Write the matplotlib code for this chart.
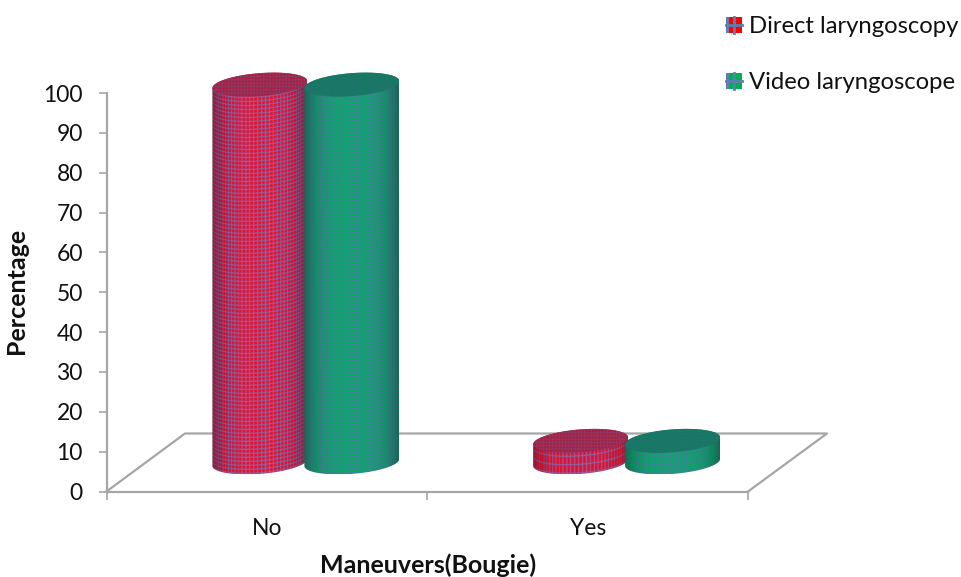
import matplotlib
matplotlib.use('Agg')
import matplotlib.pyplot as plt
from matplotlib.patches import PathPatch, Rectangle
from matplotlib.path import Path
from matplotlib.lines import Line2D
import numpy as np

categories = ['No', 'Yes']
series_names = ['Direct laryngoscopy', 'Video laryngoscope']
direct_values = [94.8, 5.4]
video_values = [94.8, 5.4]
y_ticks = list(range(0, 101, 10))

W, H = 961, 577
GRAY = '#a6a6a6'
TEXT = '#111111'
plt.rcParams['font.family'] = ['Lato', 'DejaVu Sans']

# plot box in pixels, y=0 is the front edge of the floor
LEFT, RIGHT, BOTTOM, TOP = 106.5, 748, 491.5, 93
DX = (RIGHT - LEFT) / 2      # pixels per category
DY = (BOTTOM - TOP) / 100    # pixels per percent

fig = plt.figure(figsize=(W / 100, H / 100), dpi=100)
ax = fig.add_axes([LEFT / W, 1 - BOTTOM / H, (RIGHT - LEFT) / W, (BOTTOM - TOP) / H])
ax.set_xlim(0, 2)
ax.set_ylim(0, 100)


def shade(u):
    return 0.68 + 0.32 * (1 - np.abs(u) ** 3.5)


def cylinder(cat, side, value, base_col, line_col, top_col, top_line):
    # cylinder sits on the floor, half the depth back from the front edge
    a = 47.5
    b = 11.5
    k = 3.5
    cx = cat + 0.5 + (39 + side * 46) / DX
    y0 = 7.3
    y1 = y0 + value

    t = np.linspace(0, 2 * np.pi, 200)
    low = t[100:]
    upp = t[:100]
    xs = np.r_[cx + a / DX * np.cos(low), cx + a / DX * np.cos(upp)]
    ys = np.r_[y0 + (b * np.sin(low) + k * np.cos(low)) / DY,
               y1 + (b * np.sin(upp) + k * np.cos(upp)) / DY]
    patch = PathPatch(Path(np.c_[xs, ys]), fc='none', ec='none', transform=ax.transData)
    ax.add_patch(patch)

    xmin, xmax, ymin, ymax = xs.min(), xs.max(), ys.min(), ys.max()
    nx = int((xmax - xmin) * DX * 3)
    ny = int((ymax - ymin) * DY * 3)
    gx, gy = np.meshgrid(np.linspace(xmin, xmax, nx), np.linspace(ymin, ymax, ny))
    u = np.clip((gx - cx) * DX / a, -1, 1)
    s = np.arccos(u) * a
    pitch_y = 4.0 if value > 20 else 8.5
    v = (gy - y0) * DY - k * u + b * np.sqrt(1 - u ** 2)
    grid = ((s / 4.0) % 1 < 0.27) | ((v / pitch_y) % 1 < 1.05 / pitch_y)
    img = np.where(grid[..., None], np.array(line_col), np.array(base_col))
    img = img * shade(u)[..., None]
    im = ax.imshow(img / 255, extent=(xmin, xmax, ymin, ymax), origin='lower',
                   aspect='auto', interpolation='bilinear', zorder=3 + side)
    im.set_clip_box(fig.bbox)
    im.set_clip_path(patch)

    # top face
    tx = cx + a / DX * np.cos(t)
    ty = y1 + (b * np.sin(t) + k * np.cos(t)) / DY
    top_patch = PathPatch(Path(np.c_[tx, ty]), fc='none', ec='none', transform=ax.transData)
    ax.add_patch(top_patch)
    ymin2, ymax2 = ty.min(), ty.max()
    ny2 = int((ymax2 - ymin2) * DY * 3)
    gx, gy = np.meshgrid(np.linspace(xmin, xmax, nx), np.linspace(ymin2, ymax2, ny2))
    px, py = (gx - xmin) * DX, (gy - ymin2) * DY
    grid = ((px / 3.2) % 1 < 0.3) | ((py / 3.2) % 1 < 0.3)
    img = np.where(grid[..., None], np.array(top_line), np.array(top_col))
    im = ax.imshow(img / 255, extent=(xmin, xmax, ymin2, ymax2), origin='lower',
                   aspect='auto', interpolation='bilinear', zorder=3 + side)
    im.set_clip_box(fig.bbox)
    im.set_clip_path(top_patch)


# red bars first, green ones overlap them
for i in range(len(categories)):
    cylinder(i, -1, direct_values[i], (232, 16, 48), (135, 105, 170), (176, 26, 60), (135, 62, 105))
    cylinder(i, 1, video_values[i], (10, 168, 106), (65, 130, 150), (22, 124, 98), (30, 114, 108))

ax.set_xlim(0, 2)
ax.set_ylim(0, 100)

# floor of the 3D chart
floor_x = [0, 78.5 / (RIGHT - LEFT), (827 - LEFT) / (RIGHT - LEFT), 1]
floor_y = [0, 58 / (BOTTOM - TOP), 58 / (BOTTOM - TOP), 0]
ax.add_line(Line2D(floor_x, floor_y, color=GRAY, lw=1.6, transform=ax.transAxes,
                   clip_on=False, zorder=1))

for name in ['top', 'right']:
    ax.spines[name].set_visible(False)
for name in ['left', 'bottom']:
    ax.spines[name].set_color(GRAY)
    ax.spines[name].set_linewidth(1.6)

ax.set_yticks(y_ticks)
ax.set_xticks([0, 1, 2])
ax.set_xticklabels([])
ax.set_xticks([0.5, 1.5], minor=True)
ax.set_xticklabels(categories, minor=True, fontsize=16.5, color=TEXT)
ax.tick_params(axis='x', which='major', length=6, width=1.2, color=GRAY)
ax.tick_params(axis='x', which='minor', length=0, pad=19)
ax.tick_params(axis='y', length=6, width=1.2, color=GRAY, pad=11, labelsize=16.5, labelcolor=TEXT)

fig.text(428 / W, 1 - 565 / H, 'Maneuvers(Bougie)', fontsize=18, fontweight='bold',
         color=TEXT, ha='center', va='center')
fig.text(17 / W, 1 - 291 / H, 'Percentage', fontsize=18, fontweight='bold', color=TEXT,
         rotation=90, ha='center', va='center')

# legend swatches: coloured square split by a blue-grey cross
legend_rows = [(17, (255, 0, 0)), (73, (0, 176, 80))]
for (top, col), name in zip(legend_rows, series_names):
    fig.add_artist(Rectangle((726 / W, 1 - (top + 16) / H), 16 / W, 16 / H, fc=np.array(col) / 255,
                             ec='none', transform=fig.transFigure))
    fig.add_artist(Line2D([734 / W, 734 / W], [1 - (top + 16) / H, 1 - top / H], color='#5b7fb0', lw=2))
    fig.add_artist(Line2D([726 / W, 742 / W], [1 - (top + 8) / H, 1 - (top + 8) / H], color='#5b7fb0', lw=2))
    fig.add_artist(Rectangle((726 / W, 1 - (top + 16) / H), 3 / W, 16 / H, fc='#5b7fb0',
                             ec='none', transform=fig.transFigure))
    fig.text(749 / W, 1 - (top + 9.5) / H, name, fontsize=17.2, color=TEXT, ha='left', va='center')

plt.savefig('out.png', dpi=100)
